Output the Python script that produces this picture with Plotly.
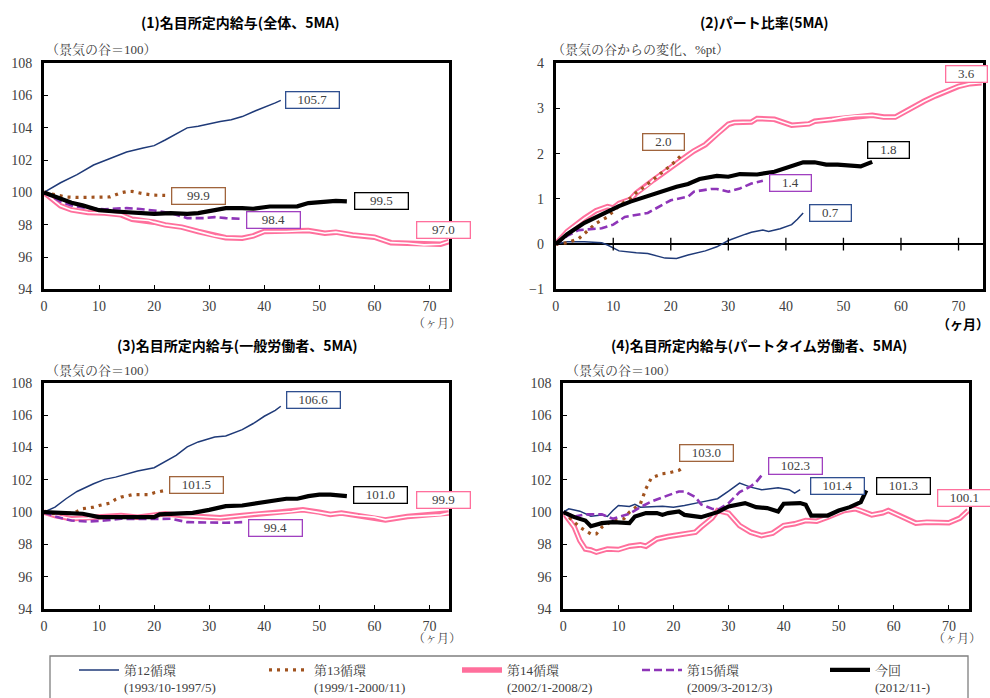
import plotly.graph_objects as go

W, H = 990, 698

# ---------------- data ----------------
xticks = [0, 10, 20, 30, 40, 50, 60, 70]

# Panel 1: 名目所定内給与（全体、5MA）
p1_c12_x = [0, 3, 6, 9, 12, 15, 18, 20, 22, 24, 26, 28, 30, 32, 34, 36, 38, 40, 42, 43]
p1_c12_y = [100, 100.6, 101.1, 101.7, 102.1, 102.5, 102.75, 102.9, 103.25, 103.6, 104.0, 104.1, 104.25, 104.4, 104.5, 104.7, 105.0, 105.25, 105.55, 105.7]
p1_c13_x = [0, 2, 4, 6, 8, 10, 12, 13, 14, 15, 16, 18, 20, 22]
p1_c13_y = [100, 99.86, 99.72, 99.69, 99.69, 99.69, 99.72, 99.85, 99.98, 100.05, 100.06, 99.92, 99.83, 99.82]
p1_c14_x = [0, 3, 5, 8, 11, 14, 16, 19, 20, 22, 25, 28, 31, 33, 36, 38, 40, 44, 48, 51, 53, 56, 57, 60, 63, 66, 69, 72, 73.5]
p1_c14_y = [100, 99.17, 98.92, 98.76, 98.72, 98.61, 98.34, 98.26, 98.16, 97.99, 97.85, 97.58, 97.31, 97.2, 97.16, 97.31, 97.58, 97.58, 97.64, 97.47, 97.54, 97.37, 97.33, 97.23, 96.89, 96.85, 96.75, 96.79, 96.96]
p1_c15_x = [0, 3, 5, 8, 11, 15, 17, 20, 23, 25, 26, 29, 31, 33, 36]
p1_c15_y = [100, 99.44, 99.19, 99.03, 98.96, 99.03, 98.99, 98.88, 98.72, 98.5, 98.41, 98.41, 98.47, 98.41, 98.36]
p1_now_x = [0, 3, 5, 7, 10, 13, 17, 20, 23, 26, 28, 30, 33, 36, 38, 41, 44, 46, 48, 51, 53, 55]
p1_now_y = [100, 99.59, 99.36, 99.2, 98.9, 98.82, 98.72, 98.67, 98.72, 98.67, 98.72, 98.86, 99.03, 99.03, 98.99, 99.13, 99.13, 99.14, 99.34, 99.4, 99.48, 99.45]
p1_labels = ["105.7", "99.9", "97.0", "98.4", "99.5"]
p1_label_x = [48.8, 28.0, 72.6, 41.6, 61.3]
p1_label_y = [105.75, 99.81, 97.68, 98.3, 99.44]

# Panel 2: パート比率（5MA）
p2_c12_x = [0, 2, 5, 8, 9, 11, 14, 16, 19, 21, 23, 26, 28, 30, 33, 34, 36, 37, 39, 41, 42, 43]
p2_c12_y = [0, 0.05, 0.05, 0.03, -0.02, -0.15, -0.19, -0.21, -0.31, -0.32, -0.24, -0.15, -0.06, 0.08, 0.22, 0.26, 0.31, 0.28, 0.34, 0.43, 0.55, 0.69]
p2_c13_x = [0, 2, 4, 6, 7, 9, 10, 11, 13, 14, 15, 16, 17, 18, 19, 20, 21, 22]
p2_c13_y = [0, 0.03, 0.12, 0.36, 0.46, 0.6, 0.72, 0.85, 1.02, 1.14, 1.23, 1.33, 1.42, 1.53, 1.64, 1.74, 1.86, 1.99]
p2_c14_x = [0, 2, 5, 7, 9, 10, 11, 13, 14, 16, 17, 19, 21, 23, 24, 26, 28, 30, 31, 34, 35, 38, 41, 44, 45, 48, 50, 52, 55, 57, 59, 60, 62, 64, 66, 68, 70, 72, 74]
p2_c14_y = [0, 0.28, 0.57, 0.74, 0.83, 0.8, 0.9, 0.99, 1.13, 1.3, 1.42, 1.6, 1.8, 1.97, 2.06, 2.2, 2.43, 2.65, 2.69, 2.7, 2.78, 2.76, 2.63, 2.66, 2.72, 2.76, 2.81, 2.84, 2.85, 2.81, 2.81, 2.88, 3.03, 3.16, 3.28, 3.38, 3.49, 3.55, 3.57]
p2_c15_x = [0, 2, 4, 8, 10, 12, 16, 18, 20, 23, 24, 27, 28, 30, 32, 34, 36]
p2_c15_y = [0, 0.18, 0.31, 0.35, 0.43, 0.6, 0.69, 0.83, 0.97, 1.05, 1.16, 1.22, 1.22, 1.16, 1.23, 1.34, 1.4]
p2_now_x = [0, 2, 5, 7, 9, 11, 13, 17, 19, 21, 23, 25, 28, 30, 32, 35, 38, 41, 43, 45, 47, 49, 51, 53, 55]
p2_now_y = [0, 0.22, 0.47, 0.6, 0.71, 0.84, 0.94, 1.1, 1.2, 1.27, 1.33, 1.44, 1.51, 1.49, 1.55, 1.54, 1.6, 1.72, 1.81, 1.81, 1.76, 1.76, 1.75, 1.72, 1.82]
p2_labels = ["0.7", "2.0", "3.6", "1.4", "1.8"]
p2_label_x = [47.7, 18.8, 71.3, 40.8, 57.8]
p2_label_y = [0.69, 2.26, 3.76, 1.36, 2.08]

# Panel 3: 名目所定内給与（一般労働者、5MA）
p3_c12_x = [0, 2, 4, 6, 9, 11, 13, 15, 17, 20, 22, 24, 26, 28, 31, 33, 36, 38, 40, 42, 43]
p3_c12_y = [100, 100.31, 100.83, 101.28, 101.76, 102.03, 102.17, 102.38, 102.55, 102.75, 103.11, 103.52, 104.04, 104.35, 104.66, 104.72, 105.11, 105.49, 105.94, 106.3, 106.56]
p3_c13_x = [0, 2, 5, 6, 7, 9, 10, 12, 13, 14, 16, 17, 19, 20, 22]
p3_c13_y = [100, 99.9, 99.94, 100.04, 100.21, 100.31, 100.41, 100.56, 100.79, 100.93, 101.08, 101.08, 101.08, 101.2, 101.35]
p3_c14_x = [0, 2, 5, 8, 11, 14, 17, 20, 22, 25, 28, 32, 36, 39, 42, 45, 47, 50, 52, 54, 57, 60, 62, 66, 69, 72, 73.5]
p3_c14_y = [100, 99.79, 99.59, 99.63, 99.73, 99.79, 99.69, 99.83, 99.9, 99.79, 99.73, 99.65, 99.79, 99.9, 99.96, 100.04, 100.14, 100.0, 99.86, 99.94, 99.79, 99.69, 99.52, 99.73, 99.79, 99.83, 99.94]
p3_c15_x = [0, 2, 5, 8, 11, 14, 17, 20, 23, 26, 30, 33, 36]
p3_c15_y = [100, 99.73, 99.48, 99.42, 99.48, 99.59, 99.57, 99.59, 99.59, 99.38, 99.34, 99.34, 99.38]
p3_now_x = [0, 3, 7, 10, 12, 15, 17, 20, 21, 24, 27, 30, 33, 36, 39, 41, 44, 46, 48, 50, 52, 55]
p3_now_y = [100, 99.94, 99.9, 99.69, 99.69, 99.69, 99.65, 99.69, 99.86, 99.9, 99.96, 100.14, 100.37, 100.41, 100.56, 100.72, 100.83, 100.83, 100.99, 101.08, 101.08, 100.99]
p3_labels = ["106.6", "101.5", "99.9", "99.4", "101.0"]
p3_label_x = [49.0, 27.7, 72.6, 42.1, 61.1]
p3_label_y = [106.94, 101.66, 100.75, 99.03, 101.04]

# Panel 4: 名目所定内給与（パートタイム労働者、5MA）
p4_c12_x = [0, 1, 3, 5, 7, 8, 9, 10, 12, 13, 14, 16, 18, 20, 22, 25, 28, 30, 32, 34, 36, 39, 41, 42, 43]
p4_c12_y = [100, 100.21, 100.06, 99.75, 99.83, 99.73, 100.1, 100.41, 100.35, 100.48, 100.31, 100.35, 100.37, 100.31, 100.41, 100.62, 100.83, 101.3, 101.8, 101.55, 101.39, 101.51, 101.39, 101.18, 101.39]
p4_c13_x = [0, 2, 3, 5, 6, 7, 8, 9, 11, 12, 14, 15, 16, 18, 19, 21, 22]
p4_c13_y = [100, 99.38, 99.07, 98.65, 98.65, 99.07, 99.28, 99.48, 99.59, 100.0, 100.52, 101.45, 102.13, 102.38, 102.42, 102.59, 102.84]
p4_c14_x = [0, 2, 3, 4, 5, 6, 8, 10, 12, 14, 15, 17, 19, 22, 24, 25, 27, 28, 30, 32, 34, 36, 38, 40, 42, 44, 46, 48, 51, 53, 54, 56, 58, 59, 61, 64, 66, 70, 72, 73.5]
p4_c14_y = [100, 99.07, 98.24, 97.72, 97.66, 97.52, 97.72, 97.68, 97.89, 97.97, 97.89, 98.34, 98.49, 98.65, 98.76, 99.07, 99.63, 100.1, 99.94, 99.17, 98.76, 98.55, 98.7, 99.17, 99.28, 99.48, 99.44, 99.69, 100.1, 100.21, 100.1, 99.83, 99.96, 100.1, 99.79, 99.32, 99.38, 99.34, 99.63, 100.1]
p4_c15_x = [0, 2, 4, 7, 9, 12, 14, 16, 19, 21, 22, 24, 25, 27, 28, 30, 32, 34, 35, 36]
p4_c15_y = [100, 99.73, 99.86, 99.86, 99.59, 99.9, 100.31, 100.66, 101.04, 101.28, 101.28, 100.93, 100.48, 100.21, 100.14, 100.56, 101.24, 101.59, 101.86, 102.28]
p4_now_x = [0, 2, 4, 5, 7, 9, 12, 13, 15, 17, 18, 19, 21, 22, 25, 27, 28, 30, 31, 33, 35, 37, 39, 40, 43, 44, 45, 48, 50, 52, 54, 55]
p4_now_y = [100, 99.69, 99.48, 99.13, 99.32, 99.38, 99.32, 99.73, 99.94, 99.94, 99.83, 99.94, 100.04, 99.83, 99.69, 99.9, 100.0, 100.35, 100.41, 100.56, 100.31, 100.25, 100.04, 100.52, 100.56, 100.46, 99.79, 99.79, 100.1, 100.31, 100.62, 101.35]
p4_labels = ["101.4", "103.0", "100.1", "102.3", "101.3"]
p4_label_x = [49.8, 26.0, 72.8, 42.1, 61.8]
p4_label_y = [101.64, 103.69, 100.85, 102.88, 101.64]

series_keys = ["c12", "c13", "c14", "c15", "now"]
series_names = ["第12循環<br>(1993/10-1997/5)", "第13循環<br>(1999/1-2000/11)",
                "第14循環<br>(2002/1-2008/2)", "第15循環<br>(2009/3-2012/3)", "今回<br>(2012/11-)"]
panel_titles = ["(1)名目所定内給与(全体、5MA)", "(2)パート比率(5MA)",
                "(3)名目所定内給与(一般労働者、5MA)", "(4)名目所定内給与(パートタイム労働者、5MA)"]
panel_units = ["（景気の谷＝100）", "（景気の谷からの変化、%pt）", "（景気の谷＝100）", "（景気の谷＝100）"]

# ---------------- styles ----------------
SERIF = "Liberation Serif, Noto Serif CJK JP, Noto Sans CJK JP, serif"
GOTH = "Noto Sans CJK JP, sans-serif"
TXT = "#404040"
colors = {"c12": "#1F3A78", "c13": "#A0521E", "c14": "#FF6F9C", "c15": "#8E35B8", "now": "#000000"}
box_colors = {"c12": "#2F4F8F", "c13": "#A0643C", "c14": "#FF6F9C", "c15": "#A040C0", "now": "#000000"}
line_styles = {
    "c12": dict(width=1.5, dash="solid"),
    "c13": dict(width=3.2, dash="3px,5px"),
    "c14": dict(width=5.5, dash="solid"),
    "c15": dict(width=2.6, dash="8px,4px"),
    "now": dict(width=4.2, dash="solid"),
}
legend_ids = {"c12": "legend", "c13": "legend2", "c14": "legend3", "c15": "legend4", "now": "legend5"}
legend_px = [74, 264, 457, 637, 825]

panels = [
    dict(data={"c12": (p1_c12_x, p1_c12_y), "c13": (p1_c13_x, p1_c13_y), "c14": (p1_c14_x, p1_c14_y),
               "c15": (p1_c15_x, p1_c15_y), "now": (p1_now_x, p1_now_y)},
         labels=(p1_labels, p1_label_x, p1_label_y), box=(44, 449.3, 63.3, 289.3), xr=73.6,
         yr=[94, 108], dt=2, bw=50, title_x=240, title_y=22, unit_x=44, unit_y=50, month=(437, 324, False)),
    dict(data={"c12": (p2_c12_x, p2_c12_y), "c13": (p2_c13_x, p2_c13_y), "c14": (p2_c14_x, p2_c14_y),
               "c15": (p2_c15_x, p2_c15_y), "now": (p2_now_x, p2_now_y)},
         labels=(p2_labels, p2_label_x, p2_label_y), box=(555.7, 982.7, 63.3, 289.3), xr=74.2,
         yr=[-1, 4], dt=1, bw=38, title_x=764, title_y=22, unit_x=550, unit_y=50, month=(963, 323, True)),
    dict(data={"c12": (p3_c12_x, p3_c12_y), "c13": (p3_c13_x, p3_c13_y), "c14": (p3_c14_x, p3_c14_y),
               "c15": (p3_c15_x, p3_c15_y), "now": (p3_now_x, p3_now_y)},
         labels=(p3_labels, p3_label_x, p3_label_y), box=(44, 449.3, 383, 609), xr=73.6,
         yr=[94, 108], dt=2, bw=50, title_x=237, title_y=345, unit_x=44, unit_y=370, month=(437, 639, False)),
    dict(data={"c12": (p4_c12_x, p4_c12_y), "c13": (p4_c13_x, p4_c13_y), "c14": (p4_c14_x, p4_c14_y),
               "c15": (p4_c15_x, p4_c15_y), "now": (p4_now_x, p4_now_y)},
         labels=(p4_labels, p4_label_x, p4_label_y), box=(563.3, 969.3, 383, 609), xr=73.7,
         yr=[94, 108], dt=2, bw=50, title_x=759, title_y=345, unit_x=564, unit_y=370, month=(957, 639, False)),
]

draw_order = ["c14", "c12", "c13", "c15", "now"]

fig = go.Figure()
annotations = []
layout_extra = {}

for i, p in enumerate(panels):
    n = "" if i == 0 else str(i + 1)
    xa, ya = "x" + n, "y" + n
    l, r, t, b = p["box"]
    for key in draw_order:
        xs, ys = p["data"][key]
        st = line_styles[key]
        rank = series_keys.index(key)
        fig.add_trace(go.Scatter(
            x=xs, y=ys, mode="lines", xaxis=xa, yaxis=ya,
            name=series_names[rank], showlegend=(i == 0), legend=legend_ids[key],
            line=dict(color=colors[key], width=st["width"], dash=st["dash"]),
            hoverinfo="skip"))
        if key == "c14":
            fig.add_trace(go.Scatter(
                x=xs, y=ys, mode="lines", xaxis=xa, yaxis=ya, showlegend=False,
                line=dict(color="white", width=1.6), hoverinfo="skip"))
    layout_extra["xaxis" + n] = dict(
        domain=[l / W, r / W], anchor=ya, range=[0, p["xr"]], tickvals=xticks,
        ticks="" if i == 1 else "inside", ticklen=4, tickwidth=1, tickcolor="black",
        showline=True, linewidth=3, linecolor="black", mirror=True,
        showgrid=False, zeroline=False, ticklabelstandoff=2,
        tickfont=dict(family=SERIF, size=14, color=TXT))
    layout_extra["yaxis" + n] = dict(
        domain=[1 - b / H, 1 - t / H], anchor=xa, range=p["yr"], dtick=p["dt"],
        ticks="inside", ticklen=4, tickwidth=1, tickcolor="black",
        showline=True, linewidth=3, linecolor="black", mirror=True,
        showgrid=False, zeroline=(i == 1), zerolinecolor="black", zerolinewidth=1.5,
        ticklabelstandoff=6,
        tickfont=dict(family=SERIF, size=14, color=TXT))
    # value label boxes
    texts, lx, ly = p["labels"]
    for j, key in enumerate(series_keys):
        annotations.append(dict(
            x=lx[j], y=ly[j], xref=xa, yref=ya, text=texts[j], showarrow=False,
            font=dict(family=SERIF, size=13, color=TXT), bgcolor="white",
            bordercolor=box_colors[key], borderwidth=1.3, borderpad=1,
            width=p["bw"], height=13))
    # titles
    annotations.append(dict(x=p["title_x"] / W, y=1 - p["title_y"] / H, xref="paper", yref="paper",
                            text="<b>" + panel_titles[i] + "</b>", showarrow=False,
                            font=dict(family=GOTH, size=14, color="black"),
                            xanchor="center", yanchor="middle"))
    annotations.append(dict(x=p["unit_x"] / W, y=1 - p["unit_y"] / H, xref="paper", yref="paper",
                            text=panel_units[i], showarrow=False,
                            font=dict(family=SERIF, size=13, color=TXT),
                            xanchor="left", yanchor="middle"))
    mx, my, bold = p["month"]
    annotations.append(dict(x=mx / W, y=1 - my / H, xref="paper", yref="paper",
                            text="<b>（ヶ月）</b>" if bold else "（ヶ月）", showarrow=False,
                            font=dict(family=GOTH if bold else SERIF, size=13 if bold else 12,
                                      color="black" if bold else TXT),
                            xanchor="center", yanchor="middle"))

# tick marks crossing the zero line of panel 2
fig.add_trace(go.Scatter(x=xticks[1:], y=[0] * (len(xticks) - 1), mode="markers",
                         xaxis="x2", yaxis="y2", showlegend=False, hoverinfo="skip",
                         marker=dict(symbol="line-ns", size=9,
                                     line=dict(width=1.3, color="black"))))

for k, key in enumerate(series_keys):
    layout_extra[legend_ids[key]] = dict(
        x=legend_px[k] / W, y=1 - 655 / H, xanchor="left", yanchor="top",
        orientation="h", bgcolor="rgba(0,0,0,0)", borderwidth=0, itemwidth=40,
        valign="top", font=dict(family=SERIF, size=13, color=TXT))

fig.update_layout(
    width=W, height=H, margin=dict(l=0, r=0, t=0, b=0, autoexpand=False),
    paper_bgcolor="white", plot_bgcolor="white",
    annotations=annotations,
    shapes=[dict(type="rect", xref="paper", yref="paper",
                 x0=50 / W, x1=968 / W, y0=1 - 710 / H, y1=1 - 656 / H,
                 line=dict(color="#7F7F7F", width=1.3), fillcolor="rgba(0,0,0,0)", layer="below")],
    showlegend=True,
    **layout_extra,
)

fig.write_html("out.html", config={"displayModeBar": False},
               post_script="document.body.style.margin='0px';")
